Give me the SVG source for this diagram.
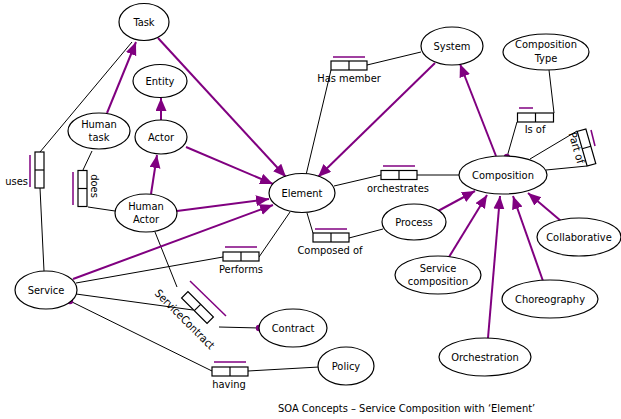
<svg xmlns="http://www.w3.org/2000/svg" xmlns:xlink="http://www.w3.org/1999/xlink" width="621" height="419" viewBox="0 0 621 419">
  <style>
    text { font-family: "DejaVu Sans Condensed", "DejaVu Sans", sans-serif; font-size: 11px; fill: #000; text-anchor: middle; }
    .node ellipse { fill: #fff; stroke: #000; stroke-width: 1.2; }
    .link { stroke: #000; stroke-width: 1; fill: none; }
    .isa { stroke: #800080; stroke-width: 2; fill: none; marker-end: url(#head); }
    line.bar { stroke: #800080; stroke-width: 1.5; }
    .dot { fill: #800080; }
  </style>
  <defs>
    <marker id="head" markerUnits="userSpaceOnUse" markerWidth="14" markerHeight="12" refX="13" refY="5.5" orient="auto">
      <path d="M0,0 L13,5.5 L0,11 z" fill="#800080"/>
    </marker>
    <!-- two-cell relationship box, centred on the origin -->
    <g id="relbox">
      <rect x="-18" y="-4.5" width="36" height="9" fill="#fff" stroke="#000" stroke-width="1.2"/>
      <line x1="0" y1="-4.5" x2="0" y2="4.5" stroke="#000" stroke-width="1.2"/>
    </g>
  </defs>

  <rect width="621" height="419" fill="#fff"/>

  <!-- connectors -->
  <g id="connectors">
    <!-- plain associations -->
    <line class="link" x1="132" y1="42" x2="40" y2="152"/>
    <line class="link" x1="40" y1="188" x2="44" y2="271"/>
    <line class="link" x1="92" y1="151" x2="83" y2="170"/>
    <line class="link" x1="88" y1="207" x2="115" y2="211"/>
    <line class="link" x1="306" y1="175" x2="331" y2="70"/>
    <line class="link" x1="367" y1="65" x2="421" y2="52"/>
    <line class="link" x1="334" y1="186" x2="381" y2="175"/>
    <line class="link" x1="417" y1="175" x2="459" y2="175"/>
    <line class="link" x1="307" y1="213" x2="313" y2="233"/>
    <line class="link" x1="349" y1="238" x2="383" y2="229"/>
    <line class="link" x1="290" y1="212" x2="259" y2="257"/>
    <line class="link" x1="76" y1="283" x2="223" y2="257"/>
    <line class="link" x1="549" y1="70" x2="554" y2="113"/>
    <line class="link" x1="517" y1="122" x2="507" y2="157"/>
    <line class="link" x1="530" y1="159" x2="577" y2="131"/>
    <line class="link" x1="546" y1="170" x2="587" y2="166"/>
    <line class="link" x1="155" y1="232" x2="177" y2="287"/>
    <line class="link" x1="76" y1="294" x2="193" y2="310"/>
    <line class="link" x1="219" y1="327" x2="259" y2="328"/>
    <line class="link" x1="70" y1="301" x2="212" y2="371"/>
    <line class="link" x1="248" y1="371" x2="319" y2="367"/>

    <!-- generalisations -->
    <line class="isa" x1="107" y1="113" x2="136" y2="42"/>
    <line class="isa" x1="158" y1="38" x2="286" y2="177"/>
    <line class="isa" x1="161" y1="120" x2="161" y2="98"/>
    <line class="isa" x1="151" y1="194" x2="157" y2="155"/>
    <line class="isa" x1="186" y1="147" x2="273" y2="184"/>
    <line class="isa" x1="177" y1="211" x2="269" y2="199"/>
    <line class="isa" x1="73" y1="279" x2="273" y2="205"/>
    <line class="isa" x1="435" y1="63" x2="318" y2="177"/>
    <line class="isa" x1="496" y1="156" x2="460" y2="64"/>
    <line class="isa" x1="438" y1="211" x2="475" y2="191"/>
    <line class="isa" x1="449" y1="257" x2="487" y2="195"/>
    <line class="isa" x1="488" y1="338" x2="500" y2="196"/>
    <line class="isa" x1="543" y1="281" x2="513" y2="196"/>
    <line class="isa" x1="561" y1="221" x2="528" y2="193"/>

    <!-- role ends -->
    <circle class="dot" cx="70" cy="301" r="3.2"/>
    <circle class="dot" cx="507" cy="157" r="3.2"/>
    <circle class="dot" cx="259" cy="328" r="3.2"/>
  </g>

  <!-- relationship boxes -->
  <g id="rel-uses">
    <use xlink:href="#relbox" transform="translate(39.5,170) rotate(90)"/>
    <line class="bar" x1="30" y1="155" x2="30" y2="187"/>
    <text x="28" y="185" style="text-anchor:end">uses</text>
  </g>
  <g id="rel-does">
    <use xlink:href="#relbox" transform="translate(82.5,188.5) rotate(90)"/>
    <line class="bar" x1="73" y1="172" x2="73" y2="205"/>
    <text transform="translate(91,186) rotate(90)">does</text>
  </g>
  <g id="rel-hasmember">
    <use xlink:href="#relbox" transform="translate(349,65.5)"/>
    <line class="bar" x1="333" y1="57" x2="365" y2="57"/>
    <text x="349" y="82">Has member</text>
  </g>
  <g id="rel-orchestrates">
    <use xlink:href="#relbox" transform="translate(399,175)"/>
    <line class="bar" x1="383" y1="166" x2="415" y2="166"/>
    <text x="398" y="192">orchestrates</text>
  </g>
  <g id="rel-composedof">
    <use xlink:href="#relbox" transform="translate(331,237.5)"/>
    <line class="bar" x1="315" y1="229" x2="347" y2="229"/>
    <text x="330" y="254">Composed of</text>
  </g>
  <g id="rel-performs">
    <use xlink:href="#relbox" transform="translate(241,256.5)"/>
    <line class="bar" x1="225" y1="247" x2="257" y2="247"/>
    <text x="241" y="273">Performs</text>
  </g>
  <g id="rel-isof">
    <use xlink:href="#relbox" transform="translate(535.5,117.5)"/>
    <line class="bar" x1="519" y1="108" x2="533" y2="108"/>
    <text x="535" y="133">Is of</text>
  </g>
  <g id="rel-partof">
    <use xlink:href="#relbox" transform="translate(586.5,147.5) rotate(74)"/>
    <line class="bar" x1="591" y1="130" x2="595" y2="146"/>
    <text transform="translate(573,149) rotate(74)">Part of</text>
  </g>
  <g id="rel-servicecontract">
    <use xlink:href="#relbox" transform="translate(197.5,307.5) rotate(45)"/>
    <line class="bar" x1="190" y1="281" x2="226" y2="316"/>
    <text transform="translate(182,322) rotate(45)">ServiceContract</text>
  </g>
  <g id="rel-having">
    <use xlink:href="#relbox" transform="translate(230,371.5)"/>
    <line class="bar" x1="214" y1="362" x2="246" y2="362"/>
    <text x="229" y="388">having</text>
  </g>

  <!-- concepts -->
  <g id="task" class="node"><ellipse cx="144" cy="22" rx="25" ry="18.5"/><text x="144" y="26">Task</text></g>
  <g id="entity" class="node"><ellipse cx="160" cy="81" rx="27" ry="16.5"/><text x="160" y="85">Entity</text></g>
  <g id="human-task" class="node"><ellipse cx="99" cy="131" rx="31" ry="18"/><text x="99" y="128">Human</text><text x="99" y="141">task</text></g>
  <g id="actor" class="node"><ellipse cx="161" cy="137" rx="26" ry="17"/><text x="161" y="141">Actor</text></g>
  <g id="human-actor" class="node"><ellipse cx="146" cy="213" rx="31" ry="19"/><text x="146" y="210">Human</text><text x="146" y="223">Actor</text></g>
  <g id="element" class="node"><ellipse cx="302" cy="193" rx="33" ry="19.5"/><text x="302" y="197">Element</text></g>
  <g id="system" class="node"><ellipse cx="452" cy="46" rx="31" ry="19"/><text x="452" y="50">System</text></g>
  <g id="composition-type" class="node"><ellipse cx="546" cy="52" rx="43" ry="18"/><text x="546" y="48">Composition</text><text x="546" y="62">Type</text></g>
  <g id="composition" class="node"><ellipse cx="503" cy="175" rx="44" ry="19"/><text x="503" y="179">Composition</text></g>
  <g id="process" class="node"><ellipse cx="414" cy="222" rx="32" ry="18"/><text x="414" y="226">Process</text></g>
  <g id="collaborative" class="node"><ellipse cx="579" cy="237" rx="42" ry="19"/><text x="579" y="241">Collaborative</text></g>
  <g id="service-composition" class="node"><ellipse cx="438" cy="275" rx="43" ry="19"/><text x="438" y="272">Service</text><text x="438" y="285">composition</text></g>
  <g id="choreography" class="node"><ellipse cx="550" cy="299" rx="48" ry="19"/><text x="550" y="303">Choreography</text></g>
  <g id="orchestration" class="node"><ellipse cx="485" cy="357" rx="46" ry="19"/><text x="485" y="361">Orchestration</text></g>
  <g id="service" class="node"><ellipse cx="46" cy="290" rx="31" ry="19"/><text x="46" y="294">Service</text></g>
  <g id="contract" class="node"><ellipse cx="293" cy="328" rx="34" ry="19"/><text x="293" y="332">Contract</text></g>
  <g id="policy" class="node"><ellipse cx="346" cy="366" rx="28" ry="19"/><text x="346" y="370">Policy</text></g>

  <!-- caption -->
  <text x="278" y="412" style="text-anchor:start">SOA Concepts – Service Composition with ‘Element’</text>
</svg>
